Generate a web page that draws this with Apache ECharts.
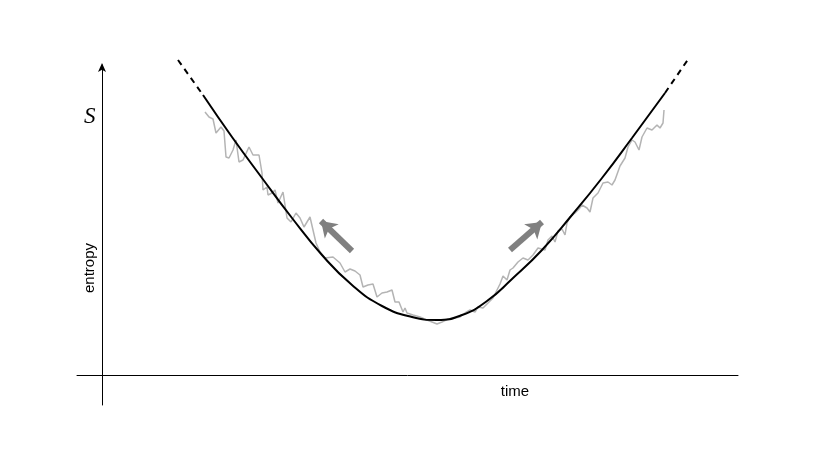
<!DOCTYPE html>
<html>
<head>
<meta charset="utf-8">
<script src="https://cdn.jsdelivr.net/npm/echarts@6/dist/echarts.min.js"></script>
<style>
  html, body { margin: 0; padding: 0; background: #fff; }
  #chart { width: 830px; height: 467px; }
</style>
</head>
<body>
<div id="chart"></div>
<script>
  // values in arbitrary time / entropy units (no tick labels on the original)
  var trendLeftDash = [[76, 315], [101, 280]]
  var trend = [
    [101, 280], [130, 238], [160, 197], [190, 157], [220, 120], [250, 90],
    [280, 69], [310, 58], [335, 55], [360, 60], [385, 74], [410, 96],
    [440, 125], [470, 160], [500, 197], [530, 237], [563, 282]
  ]
  var trendRightDash = [[563, 282], [587, 317]]

  var noisy = [
    [103, 263], [107, 258], [111, 256], [114, 242], [119, 248], [122, 244], [124, 218], [127, 217],
    [131, 225], [134, 235], [137, 213], [141, 215], [147, 228], [151, 220], [157, 220], [160, 202],
    [161, 185], [165, 188], [166, 180], [170, 182], [173, 185], [176, 172], [181, 183], [183, 183],
    [185, 157], [189, 153], [194, 162], [198, 157], [202, 148], [208, 158], [211, 145], [214, 132],
    [218, 123], [223, 117], [231, 118], [238, 112], [243, 103], [248, 106], [253, 104], [258, 100],
    [261, 88], [266, 90], [271, 91], [275, 78], [280, 82], [285, 83], [290, 85], [293, 73],
    [297, 73], [301, 63], [303, 67], [305, 62], [311, 60], [318, 58], [325, 55], [330, 53],
    [335, 51], [340, 53], [346, 56], [353, 57], [358, 58], [363, 62], [368, 65], [373, 63],
    [376, 68], [381, 67], [386, 72], [391, 77], [395, 85], [398, 91], [401, 99], [403, 100],
    [405, 95], [408, 105], [411, 107], [416, 113], [421, 117], [426, 115], [431, 120], [436, 127],
    [443, 125], [446, 135], [450, 139], [453, 133], [456, 144], [460, 146], [463, 140], [465, 152],
    [468, 158], [473, 162], [477, 166], [480, 170], [485, 167], [488, 163], [491, 177], [496, 182],
    [501, 192], [506, 193], [510, 190], [513, 195], [518, 209], [523, 217], [526, 228], [530, 235],
    [533, 233], [537, 225], [540, 238], [545, 247], [550, 245], [555, 250], [558, 247], [561, 252],
    [562, 265]
  ]

  // direction arrows: [tail, head]
  var arrows = [
    [[250, 124], [219, 154]],
    [[408, 125], [440, 153]]
  ]

  var chart = echarts.init(document.getElementById('chart'))

  var option = {
    animation: false,
    backgroundColor: '#fff',
    grid: {left: 77, right: 92, top: 65, bottom: 62},
    xAxis: {
      type: 'value', min: -25, max: 636,
      axisLine: {onZero: true, lineStyle: {color: '#000', width: 1}},
      axisTick: {show: false}, axisLabel: {show: false}, splitLine: {show: false}
    },
    yAxis: {
      type: 'value', min: -30, max: 310,
      axisLine: {
        onZero: true, symbol: ['none', 'arrow'], symbolSize: [6, 9], symbolOffset: [0, 2],
        lineStyle: {color: '#000', width: 1}
      },
      axisTick: {show: false}, axisLabel: {show: false}, splitLine: {show: false}
    },
    graphic: [
      {type: 'text', left: 84, top: 105, style: {text: 'S', font: 'italic 23px "Liberation Serif"', fill: '#000'}},
      {
        type: 'text', x: 90, y: 268, rotation: Math.PI / 2,
        style: {text: 'entropy', font: '15px "Liberation Sans"', fill: '#000', align: 'center', verticalAlign: 'middle'}
      },
      {type: 'text', x: 515, y: 392, style: {text: 'time', font: '15px "Liberation Sans"', fill: '#000', align: 'center', verticalAlign: 'middle'}}
    ],
    series: [
      {
        type: 'line', data: noisy, symbol: 'none', clip: false,
        lineStyle: {color: '#b4b4b4', width: 1.5}, z: 2
      },
      {
        type: 'line', data: trend, symbol: 'none', smooth: 0.5, clip: false,
        lineStyle: {color: '#000', width: 2}, z: 3
      },
      {
        type: 'line', data: trendLeftDash, symbol: 'none', clip: false,
        lineStyle: {color: '#000', width: 2, type: [6, 5]}, z: 3
      },
      {
        type: 'line', data: trendRightDash, symbol: 'none', clip: false,
        lineStyle: {color: '#000', width: 2, type: [6, 5]}, z: 3
      },
      {
        type: 'lines', coordinateSystem: 'cartesian2d',
        data: arrows.map(function (a) { return {coords: a} }),
        symbol: ['none', 'arrow'], symbolSize: 15,
        lineStyle: {color: '#808080', width: 6, opacity: 1}, z: 4
      }
    ]
  }

  chart.setOption(option)
</script>
</body>
</html>
